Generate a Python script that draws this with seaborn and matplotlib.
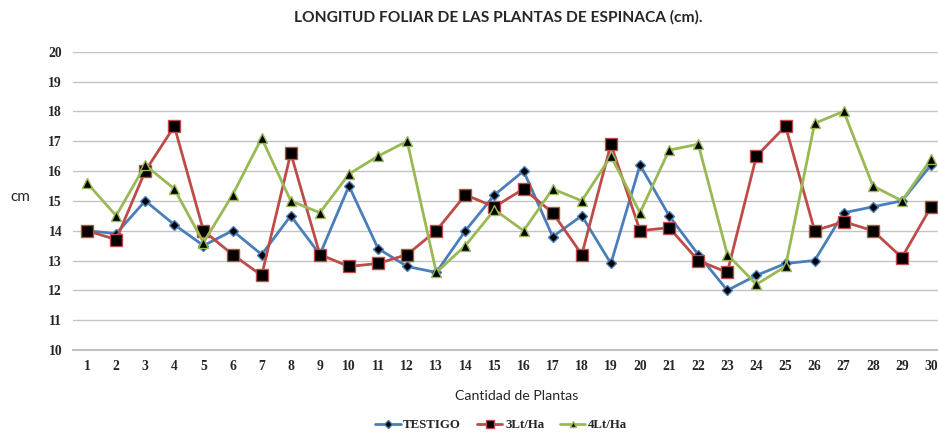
import matplotlib
matplotlib.use("Agg")
import matplotlib.pyplot as plt
import numpy as np
import pandas as pd
import seaborn as sns

plantas = list(range(1, 31))
testigo = [14.0, 13.9, 15.0, 14.2, 13.5, 14.0, 13.2, 14.5, 13.2, 15.5,
           13.4, 12.8, 12.6, 14.0, 15.2, 16.0, 13.8, 14.5, 12.9, 16.2,
           14.5, 13.2, 12.0, 12.5, 12.9, 13.0, 14.6, 14.8, 15.0, 16.2]
lt3 = [14.0, 13.7, 16.0, 17.5, 14.0, 13.2, 12.5, 16.6, 13.2, 12.8,
       12.9, 13.2, 14.0, 15.2, 14.8, 15.4, 14.6, 13.2, 16.9, 14.0,
       14.1, 13.0, 12.6, 16.5, 17.5, 14.0, 14.3, 14.0, 13.1, 14.8]
lt4 = [15.6, 14.5, 16.2, 15.4, 13.6, 15.2, 17.1, 15.0, 14.6, 15.9,
       16.5, 17.0, 12.6, 13.5, 14.7, 14.0, 15.4, 15.0, 16.5, 14.6,
       16.7, 16.9, 13.2, 12.2, 12.8, 17.6, 18.0, 15.5, 15.0, 16.4]
series_names = ["TESTIGO", "3Lt/Ha", "4Lt/Ha"]
y_ticks = list(range(10, 21))

colors = ["#4a7ebb", "#be4b48", "#98b954"]
markers = ["D", "s", "^"]
msizes = [5, 8.5, 7]

df = pd.DataFrame({
    "planta": plantas * 3,
    "cm": testigo + lt3 + lt4,
    "serie": np.repeat(series_names, len(plantas)),
})

sns.set_style("white")
serif = ["Liberation Serif", "DejaVu Serif"]
sans = ["Lato", "DejaVu Sans"]

fig = plt.figure(figsize=(9.38, 4.37), dpi=100)
ax = fig.add_axes([72.5 / 938, 1 - 350 / 437, (945.6 - 72.5) / 938, (350 - 51.7) / 437])

for name, color, mk, ms in zip(series_names, colors, markers, msizes):
    sns.lineplot(
        data=df[df["serie"] == name], x="planta", y="cm", ax=ax,
        color=color, linewidth=2, marker=mk, markersize=ms,
        markerfacecolor="black", markeredgecolor=color, markeredgewidth=1,
        label=name,
    )

ax.set_xlim(0.5, 30.5)
ax.set_ylim(10, 20)
ax.set_yticks(y_ticks)
ax.set_xticks(plantas)
ax.yaxis.grid(True, color="#c4c4c4", linewidth=1)
ax.xaxis.grid(False)
for side in ["top", "right", "left"]:
    ax.spines[side].set_visible(False)
ax.spines["bottom"].set_color("#c0c0c0")
ax.spines["bottom"].set_linewidth(1.5)
ax.tick_params(axis="both", length=0, labelsize=9.8)
ax.tick_params(axis="y", pad=7.5)
ax.tick_params(axis="x", pad=7)
for lab in ax.get_xticklabels() + ax.get_yticklabels():
    lab.set_fontfamily(serif)
    lab.set_fontweight("bold")

ax.set_xlabel("")
ax.set_ylabel("")
fig.text(10 / 938, 1 - 197 / 437, "cm", fontsize=11, family=sans, va="center", ha="left")
fig.text(517 / 938, 1 - 396 / 437, "Cantidad de Plantas", fontsize=10.2,
         family=sans, ha="center", va="center")
fig.text(498 / 938, 1 - 17 / 437, "LONGITUD FOLIAR DE LAS PLANTAS DE ESPINACA (cm).",
         fontsize=11.2, family=sans, fontweight="bold", ha="center", va="center")

leg = ax.legend(
    loc="center", bbox_to_anchor=(501 / 938, 1 - 425 / 437), bbox_transform=fig.transFigure,
    ncol=3, frameon=False, handlelength=2.0, columnspacing=1.2, handletextpad=0.2,
    prop={"family": serif, "weight": "bold", "size": 9.3},
)
for h, ms in zip(leg.legend_handles, [4, 6, 5]):
    h.set_markersize(ms)

fig.savefig("out.png", dpi=100)
